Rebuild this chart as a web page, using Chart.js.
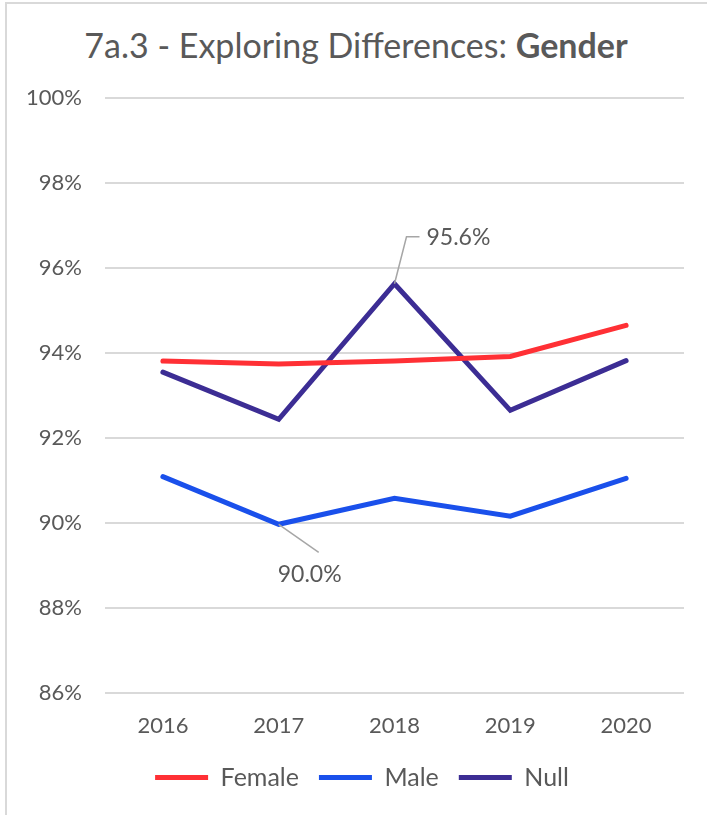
<!DOCTYPE html>
<html>
<head>
<meta charset="utf-8">
<script src="https://cdn.jsdelivr.net/npm/chart.js@4"></script>
<style>
    body { margin: 0; background: #fff; }
    #frame {
        position: absolute; left: 5px; top: 2px; width: 720px; height: 830px;
        border-left: 2px solid #d9d9d9; border-top: 2px solid #d9d9d9;
    }
    #title {
        position: absolute; left: 0; top: 24px; width: 712px; text-align: center;
        font-family: Lato, sans-serif; font-size: 34px; color: #595959;
    }
    #title b { font-weight: bold; }
    #chart { position: absolute; left: 0; top: 0; }
</style>
</head>
<body>
<div id="frame"></div>
<div id="title">7a.3 - Exploring Differences: <b>Gender</b></div>
<canvas id="chart" width="707" height="815"></canvas>
<script>
'use strict'

const years = ["2016", "2017", "2018", "2019", "2020"];
const female = [93.81, 93.74, 93.81, 93.92, 94.65];
const male = [91.09, 89.97, 90.58, 90.16, 91.05];
const nullGender = [93.55, 92.44, 95.63, 92.65, 93.82];
const yTicks = [86, 88, 90, 92, 94, 96, 98, 100];

// which points get a callout label: dataset, index, offset of the elbow
const callouts = [
    { dataset: 2, index: 2, dx: 12, dy: -47, side: "up" },
    { dataset: 1, index: 1, dx: 40, dy: 28, side: "down" }
];

const textColor = "#595959";
const fontFamily = "Lato, sans-serif";

// draws the leader lines + value text
const calloutPlugin = {
    id: "callouts",
    afterDatasetsDraw(chart) {
        const ctx = chart.ctx;
        ctx.save();
        callouts.forEach(c => {
            const pt = chart.getDatasetMeta(c.dataset).data[c.index];
            const value = chart.data.datasets[c.dataset].data[c.index];
            const text = value.toFixed(1) + "%";
            ctx.strokeStyle = "#a6a6a6";
            ctx.lineWidth = 1.5;
            ctx.beginPath();
            ctx.moveTo(pt.x, pt.y);
            ctx.lineTo(pt.x + c.dx, pt.y + c.dy);
            if (c.side === "up") ctx.lineTo(pt.x + c.dx + 13, pt.y + c.dy);
            ctx.stroke();
            ctx.fillStyle = textColor;
            ctx.font = "23px " + fontFamily;
            ctx.textBaseline = "middle";
            if (c.side === "up") {
                ctx.textAlign = "left";
                ctx.fillText(text, pt.x + c.dx + 20, pt.y + c.dy + 1);
            } else {
                ctx.textAlign = "center";
                ctx.fillText(text, pt.x + c.dx - 9, pt.y + c.dy + 22);
            }
        });
        ctx.restore();
    }
};

// nudge the legend a little right, like the original
const legendShift = {
    id: "legendShift",
    afterLayout(chart) {
        chart.legend.left += 20;
        chart.legend.right += 20;
    }
};

function makeLine(label, data, color) {
    return {
        label: label,
        data: data,
        borderColor: color,
        backgroundColor: color,
        borderWidth: 5,
        borderCapStyle: "round",
        borderJoinStyle: "miter",
        pointRadius: 0,
        tension: 0
    };
}

new Chart(document.getElementById("chart"), {
    type: "line",
    data: {
        labels: years,
        datasets: [
            makeLine("Female", female, "#ff3035"),
            makeLine("Male", male, "#1a50eb"),
            makeLine("Null", nullGender, "#3c2d94")
        ]
    },
    options: {
        responsive: false,
        animation: false,
        layout: { padding: { top: 98, right: 23, left: 0, bottom: 15 } },
        plugins: {
            legend: {
                position: "bottom",
                labels: {
                    usePointStyle: true,
                    pointStyle: "line",
                    pointStyleWidth: 53,
                    boxHeight: 5,
                    padding: 20,
                    color: textColor,
                    font: { family: fontFamily, size: 25 }
                }
            },
            tooltip: { enabled: false }
        },
        scales: {
            x: {
                offset: true,
                grid: { display: false },
                border: { display: false },
                afterFit: scale => { scale.height = 52; },
                ticks: { color: textColor, padding: 12, font: { family: fontFamily, size: 22 } }
            },
            y: {
                min: 86,
                max: 100,
                afterBuildTicks: scale => {
                    scale.ticks = yTicks.map(v => ({ value: v }));
                },
                afterFit: scale => { scale.width = 105; },
                grid: { color: "#d9d9d9", lineWidth: 2, drawTicks: false },
                border: { display: false },
                ticks: {
                    color: textColor,
                    padding: 23,
                    font: { family: fontFamily, size: 22 },
                    callback: v => v + "%"
                }
            }
        }
    },
    plugins: [calloutPlugin, legendShift]
});
</script>
</body>
</html>
